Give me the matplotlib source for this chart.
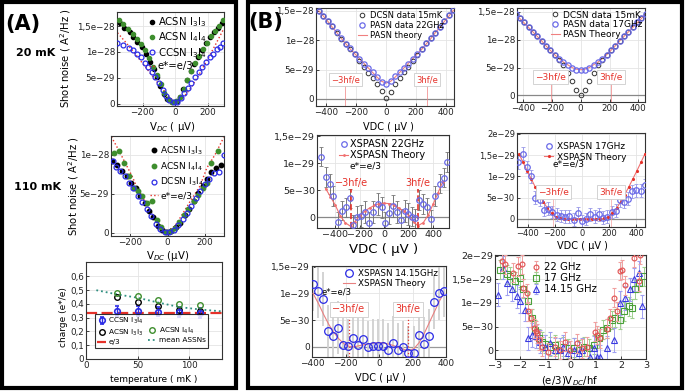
import numpy as np
import matplotlib
matplotlib.use("Agg")
import matplotlib.pyplot as plt
from matplotlib.patches import Rectangle
from matplotlib.lines import Line2D

W, H = 685, 392

# ---------------- panel A data ----------------
# 20 mK, shot noise in units of 1e-28 A^2/Hz, V in uV
a1_v_acsn33 = [-342, -312, -281, -260, -232, -205, -178, -154, -133, -113, -92, -68, -47, -21,
               10, 31, 51, 72, 96, 117, 139, 164, 189, 215, 242, 267, 291]
a1_s_acsn33 = [1.55, 1.47, 1.39, 1.29, 1.20, 1.10, 0.97, 0.81, 0.67, 0.51, 0.35, 0.19, 0.09, 0.04,
               0.06, 0.14, 0.28, 0.46, 0.64, 0.77, 0.91, 1.04, 1.17, 1.28, 1.39, 1.47, 1.56]
a1_v_acsn44 = [-348, -318, -290, -262, -236, -210, -184, -160, -136, -112, -90, -66, -44, -20,
               6, 30, 52, 76, 98, 122, 146, 170, 194, 220, 246, 270, 294]
a1_s_acsn44 = [1.62, 1.53, 1.44, 1.35, 1.25, 1.15, 1.03, 0.88, 0.72, 0.55, 0.38, 0.21, 0.09, 0.04,
               0.05, 0.13, 0.28, 0.46, 0.63, 0.79, 0.93, 1.06, 1.18, 1.30, 1.41, 1.51, 1.62]
a1_v_ccsn = [-355, -318, -287, -260, -236, -211, -185, -164, -144, -123, -98, -76, -55, -35, -10,
             14, 35, 55, 78, 98, 123, 144, 168, 191, 215, 236, 256, 277, 297]
a1_s_ccsn = [1.18, 1.13, 1.08, 1.04, 0.97, 0.90, 0.79, 0.72, 0.62, 0.51, 0.40, 0.27, 0.15, 0.08, 0.03,
             0.04, 0.11, 0.21, 0.30, 0.40, 0.51, 0.62, 0.72, 0.81, 0.90, 0.97, 1.05, 1.10, 1.17]
a1_v_th = [-355, -300, -250, -200, -150, -100, -50, 0, 50, 100, 150, 200, 250, 300]
a1_s_th = [1.37, 1.17, 0.98, 0.78, 0.58, 0.38, 0.18, 0.03, 0.12, 0.32, 0.58, 0.86, 1.15, 1.45]

# 110 mK
a2_v_acsn33 = [-294, -268, -242, -217, -193, -170, -146, -122, -99, -75, -50, -27, -3,
               21, 45, 68, 92, 117, 140, 164, 188, 211, 235, 259, 286]
a2_s_acsn33 = [0.92, 0.87, 0.79, 0.73, 0.64, 0.57, 0.47, 0.38, 0.28, 0.20, 0.09, 0.04, 0.01,
               0.02, 0.07, 0.13, 0.23, 0.31, 0.41, 0.51, 0.60, 0.69, 0.78, 0.83, 0.87]
a2_v_acsn44 = [-286, -259, -232, -206, -179, -158, -134, -107, -81, -54, -33, -9,
               18, 39, 63, 89, 110, 140, 161, 188, 211, 232, 268]
a2_s_acsn44 = [1.02, 1.05, 0.89, 0.73, 0.58, 0.54, 0.47, 0.38, 0.41, 0.17, 0.07, 0.01,
               0.02, 0.06, 0.14, 0.23, 0.30, 0.41, 0.49, 0.57, 0.64, 0.89, 1.05]
a2_v_dcsn = [-289, -277, -253, -229, -206, -182, -158, -134, -110, -86, -63, -39, -15,
             9, 33, 57, 81, 104, 128, 152, 175, 200, 224, 250, 277, 300]
a2_s_dcsn = [0.92, 0.84, 0.79, 0.73, 0.64, 0.57, 0.47, 0.39, 0.30, 0.21, 0.11, 0.05, 0.01,
             0.01, 0.04, 0.10, 0.18, 0.26, 0.35, 0.45, 0.54, 0.62, 0.69, 0.77, 0.78, 1.00]
a2_v_th = [-300, -261, -225, -190, -163, -120, -80, -40, 0, 40, 80, 120, 174, 210, 254, 300]
a2_s_th = [1.23, 1.06, 0.89, 0.73, 0.58, 0.40, 0.24, 0.09, 0.02, 0.09, 0.24, 0.40, 0.60, 0.83, 1.00, 1.22]

# charge vs temperature
a3_temp = [30, 50, 70, 90, 110]
a3_ccsn = [0.35, 0.35, 0.345, 0.34, 0.335]
a3_ccsn_err = [0.035, 0.035, 0.035, 0.035, 0.035]
a3_acsn33 = [0.45, 0.415, 0.385, 0.355, 0.35]
a3_acsn44 = [0.48, 0.46, 0.43, 0.40, 0.39]
a3_mean_t = [10, 30, 50, 70, 90, 110, 132]
a3_mean = [0.50, 0.47, 0.445, 0.41, 0.378, 0.36, 0.346]
a3_e3 = 1 / 3

# ---------------- panel B data ----------------
b_v30 = [-450, -420, -390, -360, -330, -300, -270, -240, -210, -180, -150, -120, -90, -60, -30, 0,
         30, 60, 90, 120, 150, 180, 210, 240, 270, 300, 330, 360, 390, 420, 450]
# units of 1e-29
b1_dcsn = [15.0, 14.2, 13.3, 12.4, 11.3, 10.3, 9.4, 8.5, 7.6, 6.5, 5.4, 4.5, 3.5, 2.6, 1.3, 0.2,
           1.2, 2.6, 3.6, 4.6, 5.5, 6.4, 7.5, 8.5, 9.5, 10.4, 11.3, 12.2, 13.3, 14.3, 15.1]
b1_pasn = [15.0, 14.2, 13.3, 12.4, 11.4, 10.4, 9.4, 8.6, 7.6, 6.8, 6.0, 5.3, 4.6, 3.8, 2.9, 2.6,
           3.0, 3.9, 4.6, 5.3, 6.0, 6.8, 7.6, 8.5, 9.5, 10.4, 11.3, 12.3, 13.3, 14.3, 15.1]
b1_th = [15.0, 14.1, 13.2, 12.2, 11.3, 10.3, 9.4, 8.5, 7.7, 6.9, 6.1, 5.3, 4.5, 3.7, 3.0, 2.7,
         3.0, 3.7, 4.5, 5.3, 6.1, 6.9, 7.7, 8.5, 9.4, 10.3, 11.3, 12.2, 13.2, 14.1, 15.1]
b1_hf = [-273, 273]

b2_dcsn = [14.6, 13.9, 13.1, 12.3, 11.4, 10.6, 9.8, 8.9, 8.1, 7.2, 6.4, 5.4, 4.0, 2.6, 1.0, 0.0,
           1.0, 2.6, 4.0, 5.4, 6.3, 7.2, 8.1, 8.9, 9.8, 10.6, 11.4, 12.3, 13.1, 13.9, 14.7]
b2_pasn = [14.6, 13.9, 13.1, 12.3, 11.4, 10.6, 9.8, 8.9, 8.1, 7.3, 6.6, 6.0, 5.5, 5.0, 4.6, 4.5,
           4.6, 5.0, 5.5, 6.0, 6.6, 7.3, 8.1, 8.9, 9.8, 10.6, 11.4, 12.3, 13.1, 13.9, 14.7]
b2_th = [14.6, 13.8, 13.0, 12.2, 11.4, 10.6, 9.8, 8.9, 8.1, 7.3, 6.6, 6.0, 5.5, 5.0, 4.7, 4.6,
         4.7, 5.0, 5.5, 6.0, 6.6, 7.3, 8.1, 8.9, 9.8, 10.6, 11.4, 12.2, 13.0, 13.8, 14.7]
b2_hf = [-207, 207]

# units of 1e-30
b3_v = [-515, -475, -443, -416, -382, -347, -315, -283, -256, -222, -187, -155, -123, -88, -53, -21,
        5, 37, 72, 107, 139, 166, 198, 224, 251, 286, 320, 347, 384, 419, 454, 486, 512]
b3_s = [11.2, 7.4, 6.1, 3.9, -0.8, 1.2, 1.8, 3.5, -1.4, 0.0, 0.2, 1.0, -1.0, 1.0, 2.4, 1.8,
        -1.1, 0.7, 2.1, 1.0, -0.5, 1.2, 0.6, 0.1, -0.2, 3.2, 2.4, 1.8, -0.4, 3.9, 6.2, 7.3, 10.2]
b3_err = [1.8, 1.8, 1.8, 1.8, 1.8, 1.8, 1.8, 1.8, 1.8, 2.0, 2.0, 2.0, 2.0, 2.0, 2.0, 2.0,
          2.0, 2.0, 2.0, 2.0, 2.0, 2.0, 2.0, 1.8, 1.8, 1.8, 1.8, 1.8, 1.8, 1.8, 1.8, 1.8, 1.8]
b3_th_v = [-480, -440, -400, -360, -320, -275, -240, -200, -160, -120, -80, -40, 0,
           40, 80, 120, 160, 200, 240, 275, 320, 360, 400, 440, 480]
b3_th = [5.3, 3.8, 2.2, 0.3, -1.0, -1.7, -0.8, 0.3, 1.1, 1.7, 2.2, 2.5, 2.6,
         2.5, 2.2, 1.7, 1.1, 0.3, -0.8, -1.6, -1.0, 0.4, 2.4, 4.5, 6.6]
b3_hf = [-275, 275]

# units of 1e-29
b4_v = [-471, -439, -409, -377, -345, -310, -280, -248, -218, -186, -156, -124, -94, -62, -32, 0,
        32, 62, 94, 124, 156, 186, 218, 248, 278, 310, 340, 372, 402, 434, 464]
b4_s = [1.33, 1.53, 1.22, 1.00, 0.50, 0.45, 0.22, 0.24, 0.16, 0.10, 0.07, 0.05, 0.06, -0.02, 0.14, -0.05,
        0.00, 0.11, 0.05, 0.11, 0.03, 0.05, 0.16, 0.19, 0.44, 0.40, 0.48, 0.65, 0.67, 0.66, 0.79]
b4_th_v = [-465, -435, -405, -375, -345, -315, -285, -255, -225, -195, -165, -135, -105, -75, -45, -15,
           15, 45, 75, 105, 135, 165, 195, 225, 255, 285, 315, 345, 375, 405, 435, 465]
b4_th = [1.53, 1.33, 1.13, 0.94, 0.75, 0.57, 0.40, 0.25, 0.13, 0.05, 0.01, 0.0, 0.0, 0.0, 0.0, 0.0,
         0.0, 0.0, 0.0, 0.0, 0.0, 0.01, 0.05, 0.13, 0.25, 0.40, 0.57, 0.75, 0.94, 1.13, 1.33, 1.53]
b4_hf = [-212, 212]

b5_v = [-394, -364, -334, -304, -274, -244, -214, -184, -154, -124, -94, -64, -34, -4,
        26, 56, 86, 116, 146, 176, 206, 236, 266, 296, 326, 356, 386]
b5_s = [1.17, 1.04, 0.89, 0.29, 0.21, 0.36, 0.04, 0.02, 0.16, 0.04, 0.14, -0.01, 0.02, 0.02,
        0.02, -0.06, 0.08, -0.06, -0.01, -0.11, -0.11, 0.22, 0.05, 0.20, 0.83, 1.00, 1.05]
b5_th_v = [-394, -360, -330, -300, -270, -240, -210, -180, -150, -120, -90, -60, -30, 0,
           30, 60, 90, 120, 150, 180, 210, 240, 270, 300, 330, 360, 386]
b5_th = [1.00, 0.80, 0.60, 0.42, 0.27, 0.15, 0.06, 0.01, 0.0, 0.02, 0.04, 0.06, 0.07, 0.08,
         0.07, 0.05, 0.02, -0.02, -0.05, -0.07, -0.03, 0.08, 0.25, 0.45, 0.65, 0.85, 1.00]
b5_hf = [-180, 175]

# scaled voltage (e/3)V/hf, noise in 1e-29
b6_x22 = [-2.74, -2.60, -2.27, -2.07, -1.94, -1.87, -1.74, -1.67, -1.57, -1.47, -1.37, -1.34, -1.27, -1.14,
          -0.88, -0.61, -0.41, -0.21, -0.01, 0.25, 0.45, 0.65, 0.98, 1.05, 1.18, 1.45, 1.58, 1.71, 1.85,
          1.95, 2.05, 2.18, 2.51, 2.71, 2.78]
b6_s22 = [1.89, 1.82, 1.64, 1.78, 1.82, 1.32, 1.21, 0.82, 0.68, 0.46, 0.41, 0.36, 0.21, 0.07,
          -0.04, 0.07, 0.00, 0.18, 0.00, 0.14, 0.04, 0.07, 0.39, 0.32, 0.25, 0.45, 0.68, 1.11, 0.82,
          1.68, 1.71, 1.38, 1.96, 1.46, 2.03]
b6_x17 = [-2.80, -2.54, -2.40, -2.20, -2.00, -1.87, -1.67, -1.54, -1.41, -1.27, -1.14, -1.01, -0.81, -0.61,
          -0.48, -0.28, -0.08, 0.12, 0.32, 0.52, 0.72, 0.92, 1.12, 1.31, 1.45, 1.65, 1.78, 1.95, 2.11,
          2.31, 2.44, 2.58, 2.71, 2.91]
b6_s17 = [1.71, 1.61, 1.57, 1.46, 1.53, 1.30, 1.04, 0.68, 0.43, 0.25, 0.18, 0.13, 0.07, 0.11,
          0.00, 0.07, 0.04, 0.05, 0.01, 0.07, 0.04, 0.11, 0.25, 0.43, 0.46, 0.64, 0.68, 0.64, 0.82,
          0.93, 0.89, 1.29, 1.43, 1.57]
b6_x14 = [-2.87, -2.70, -2.54, -2.34, -2.14, -2.00, -1.81, -1.67, -1.54, -1.37, -1.21, -1.01, -0.81, -0.61,
          -0.41, -0.28, -0.08, 0.12, 0.32, 0.45, 0.78, 0.92, 1.05, 1.18, 1.45, 1.71, 1.98, 2.18, 2.38,
          2.51, 2.71, 2.84]
b6_s14 = [1.18, 1.75, 1.43, 1.29, 1.14, 1.04, 0.86, 0.25, 0.32, 0.29, 0.18, 0.07, 0.14, 0.00,
          0.00, 0.07, -0.07, 0.00, -0.07, 0.00, -0.14, 0.04, -0.14, -0.14, 0.04, 0.21, 1.00, 1.11, 1.29,
          1.50, 1.64, 0.93]

# tick labels
ticks_28 = [0, 5e-29, 1e-28, 1.5e-28]
labels_28 = ["0", "5e\u221229", "1e\u221228", "1,5e\u221228"]
ticks_29 = [0, 5e-30, 1e-29, 1.5e-29]
labels_29 = ["0", "5e\u221230", "1e\u221229", "1,5e\u221229"]
ticks_29b = [0, 5e-30, 1e-29, 1.5e-29, 2e-29]
labels_29b = ["0", "5e\u221230", "1e\u221229", "1,5e\u221229", "2e\u221229"]
ticks_charge = [0, 0.1, 0.2, 0.3, 0.4, 0.5, 0.6]
labels_charge = ["0", "0,1", "0,2", "0,3", "0,4", "0,5", "0,6"]

BLUE = "#2b2be6"
LBLUE = "#6a6ae8"
GREEN = "#3e8e2e"
RED = "#e5322a"
TEAL = "#2e8f80"

fig = plt.figure(figsize=(W / 100, H / 100), dpi=100)


def px_axes(l, t, r, b):
    return fig.add_axes([l / W, 1 - b / H, (r - l) / W, (b - t) / H])


def ftext(x, y, s, **kw):
    kw.setdefault("ha", "center")
    kw.setdefault("va", "center")
    fig.text(x / W, 1 - y / H, s, **kw)


def style(ax, xt, xtl, yt, ytl, fs):
    ax.set_xticks(xt)
    ax.set_xticklabels(xtl)
    ax.set_yticks(yt)
    ax.set_yticklabels(ytl)
    ax.tick_params(labelsize=fs, direction="in", length=2, width=0.6, pad=1.5, colors="#222222")
    ax.grid(True, color="#e4e4e4", lw=0.6)
    ax.set_axisbelow(True)
    for s in ax.spines.values():
        s.set_color("#333333")
        s.set_linewidth(0.8)


def scale(vals, f):
    return np.array(vals) * f


vticks = [-200, 0, 200]
vticks_l = ["\u2212200", "0", "200"]
bticks = [-400, -200, 0, 200, 400]
bticks_l = ["\u2212400", "\u2212200", "0", "200", "400"]

# ---------- frames ----------
fig.patches.append(Rectangle((2 / W, 4 / H), 234 / W, 386 / H, transform=fig.transFigure,
                             fill=False, lw=3, ec="black"))
fig.patches.append(Rectangle((248 / W, 4 / H), 434 / W, 386 / H, transform=fig.transFigure,
                             fill=False, lw=3, ec="black"))

ftext(23, 24, "(A)", fontsize=15, fontweight="bold")
ftext(266, 22, "(B)", fontsize=15, fontweight="bold")
ftext(36, 53, "20 mK", fontsize=8, fontweight="bold")
ftext(38, 187, "110 mK", fontsize=8, fontweight="bold")

# ---------- A1 ----------
ax = px_axes(117, 12, 224, 106)
ax.plot(a1_v_th, scale(a1_s_th, 1e-28), ":", color=RED, lw=1.0, label="e*=e/3", zorder=2)
ax.plot(a1_v_acsn33, scale(a1_s_acsn33, 1e-28), "o", color="black", ms=3, label="ACSN I$_3$I$_3$", zorder=3)
ax.plot(a1_v_acsn44, scale(a1_s_acsn44, 1e-28), "o", color=GREEN, ms=3, label="ACSN I$_4$I$_4$", zorder=3)
ax.plot(a1_v_ccsn, scale(a1_s_ccsn, 1e-28), "o", mfc="none", mec=BLUE, mew=0.9, ms=3.5,
        label="CCSN I$_3$I$_4$", zorder=3)
ax.set_xlim(-358, 301)
ax.set_ylim(-0.04e-28, 1.77e-28)
style(ax, vticks, vticks_l, ticks_28, labels_28, 6.3)
h, l = ax.get_legend_handles_labels()
ax.legend([h[1], h[2], h[3], h[0]], [l[1], l[2], l[3], l[0]], loc="upper left", bbox_to_anchor=(0.24, 1.03),
          frameon=False, fontsize=7.3, handlelength=0.6, handletextpad=0.3, labelspacing=0.15,
          borderpad=0.1)
ftext(66, 58, "Shot noise ( A$^2$/Hz )", fontsize=7.3, rotation=90)
ftext(172, 127, "V$_{DC}$ ( \u00b5V)", fontsize=7.3)

# ---------- A2 ----------
ax = px_axes(111, 136, 224, 236)
ax.plot(a2_v_th, scale(a2_s_th, 1e-28), ":", color=RED, lw=1.0, label="e*=e/3", zorder=2)
ax.plot(a2_v_acsn33, scale(a2_s_acsn33, 1e-28), "o", color="black", ms=3.2, label="ACSN I$_3$I$_3$", zorder=3)
ax.plot(a2_v_acsn44, scale(a2_s_acsn44, 1e-28), "o", color=GREEN, ms=3.2, label="ACSN I$_4$I$_4$", zorder=3)
ax.plot(a2_v_dcsn, scale(a2_s_dcsn, 1e-28), "o", mfc="none", mec=BLUE, mew=0.9, ms=3.5,
        label="DCSN I$_3$I$_4$", zorder=3)
ax.set_xlim(-302, 302)
ax.set_ylim(-0.04e-28, 1.24e-28)
style(ax, vticks, vticks_l, ticks_28[:3], labels_28[:3], 6.3)
h, l = ax.get_legend_handles_labels()
ax.legend([h[1], h[2], h[3], h[0]], [l[1], l[2], l[3], l[0]], loc="upper left", bbox_to_anchor=(0.3, 0.97),
          frameon=False, fontsize=6.5, handlelength=0.8, handletextpad=0.3, labelspacing=0.35,
          borderpad=0.1)
ftext(74, 186, "Shot noise ( A$^2$/Hz )", fontsize=7.3, rotation=90)
ftext(168, 256, "V$_{DC}$ (\u00b5V)", fontsize=7.3)

# ---------- A3 ----------
ax = px_axes(86, 262, 222, 359)
h_e3 = ax.axhline(a3_e3, color=RED, ls=(0, (5, 2)), lw=1.6, zorder=2)
h_mean, = ax.plot(a3_mean_t, a3_mean, ":", color=TEAL, lw=1.3, zorder=2)
h_cc = ax.errorbar(a3_temp, a3_ccsn, yerr=a3_ccsn_err, fmt="o", mfc="none", mec=BLUE, ecolor=BLUE,
                   mew=1.2, ms=4, elinewidth=1.0, capsize=1.5, zorder=3)
h_33, = ax.plot(a3_temp, a3_acsn33, "o", mfc="none", mec="black", mew=1.0, ms=4, zorder=3)
h_44, = ax.plot(a3_temp, a3_acsn44, "o", mfc="none", mec=GREEN, mew=1.0, ms=4, zorder=3)
ax.set_xlim(0, 131.5)
ax.set_ylim(0, 0.705)
style(ax, [0, 50, 100], ["0", "50", "100"], ticks_charge, labels_charge, 6.3)
blank = Line2D([], [], color="none")
leg = ax.legend([h_cc, h_33, h_e3, blank, h_44, h_mean],
                ["CCSN I$_3$I$_4$", "ACSN I$_3$I$_3$", "e/3", "", "ACSN I$_4$I$_4$", "mean ASSNs"],
                ncol=2, loc="lower left", bbox_to_anchor=(0.04, 0.08), fontsize=5.3, frameon=True,
                fancybox=False, edgecolor="black", handlelength=1.2, handletextpad=0.3,
                columnspacing=0.5, labelspacing=0.2, borderpad=0.3)
leg.get_frame().set_linewidth(0.8)
ftext(64, 317, "charge (e*/e)", fontsize=6.5, rotation=90)
ftext(154, 379, "temperature ( mK )", fontsize=6.5)


def hf_marks(ax, xs, ytop, yl, labs, ls, lw, color, boxed, fs):
    for x, lab in zip(xs, labs):
        ax.plot([x, x], [ax.get_ylim()[0], ytop], ls=ls, lw=lw, color=color, zorder=2)
        bb = dict(boxstyle="square,pad=0.25", fc="white", ec="#cccccc", lw=0.6) if boxed else None
        ax.text(x, yl, lab, color=RED, fontsize=fs, ha="center", va="center", bbox=bb, zorder=4)


# ---------- B1 ----------
ax = px_axes(316, 8, 454, 106)
ax.axhline(0, color="#888888", lw=0.9, zorder=1)
ax.plot(b_v30, scale(b1_th, 1e-29), "-", color="#f08080", lw=0.8, label="PASN theory", zorder=2)
ax.plot(b_v30, scale(b1_dcsn, 1e-29), "o", mfc="none", mec="#333333", mew=0.7, ms=3.3,
        label="DCSN data 15mK", zorder=3)
ax.plot(b_v30, scale(b1_pasn, 1e-29), "o", mfc="none", mec=LBLUE, mew=0.9, ms=3.8,
        label="PASN data 22GHz", zorder=3)
ax.set_xlim(-470, 455)
ax.set_ylim(-1.2e-29, 1.55e-28)
style(ax, bticks, bticks_l, ticks_28, labels_28, 6.3)
h, l = ax.get_legend_handles_labels()
ax.legend([h[1], h[2], h[0]], [l[1], l[2], l[0]], loc="upper left", bbox_to_anchor=(0.27, 1.02),
          frameon=False, fontsize=6, handlelength=1.0, handletextpad=0.4, labelspacing=0.1, borderpad=0.1)
hf_marks(ax, b1_hf, 3.0e-29, 3.3e-29, ["\u22123hf/e", "3hf/e"], "-", 0.5, "#f08080", True, 6)
ftext(388, 127, "VDC ( \u00b5V )", fontsize=7)

# ---------- B2 ----------
ax = px_axes(517, 8, 645, 102)
ax.axhline(0, color="#888888", lw=0.9, zorder=1)
ax.plot(b_v30, scale(b2_th, 1e-29), "-", color="#f08080", lw=0.8, label="PASN Theory", zorder=2)
ax.plot(b_v30, scale(b2_dcsn, 1e-29), "o", mfc="none", mec="#333333", mew=0.7, ms=3.3,
        label="DCSN data 15mK", zorder=3)
ax.plot(b_v30, scale(b2_pasn, 1e-29), "o", mfc="none", mec=LBLUE, mew=0.9, ms=3.8,
        label="PASN data 17GHz", zorder=3)
ax.set_xlim(-440, 445)
ax.set_ylim(-1.2e-29, 1.57e-28)
style(ax, bticks, bticks_l, ticks_28, labels_28, 6.3)
h, l = ax.get_legend_handles_labels()
ax.legend([h[1], h[2], h[0]], [l[1], l[2], l[0]], loc="upper left", bbox_to_anchor=(0.22, 1.03),
          frameon=False, fontsize=6.5, handlelength=1.0, handletextpad=0.4, labelspacing=0.1, borderpad=0.1)
hf_marks(ax, b2_hf, 3.0e-29, 3.3e-29, ["\u22123hf/e", "3hf/e"], "-", 0.5, "#f08080", True, 6.5)

# ---------- B3 ----------
ax = px_axes(317, 135, 449, 228)
ax.axhline(0, color="#888888", lw=0.9, zorder=1)
ax.errorbar(b3_v, scale(b3_s, 1e-30), yerr=scale(b3_err, 1e-30), fmt="none", ecolor="#777777",
            elinewidth=0.7, capsize=1.5, capthick=0.6, zorder=2)
hth, = ax.plot(b3_th_v, scale(b3_th, 1e-30), "-", color="#f07070", lw=0.8, marker=".", ms=2, zorder=3)
hd, = ax.plot(b3_v, scale(b3_s, 1e-30), "o", mfc="none", mec=LBLUE, mew=0.9, ms=4, zorder=4)
ax.set_xlim(-550, 530)
ax.set_ylim(-0.2e-29, 1.52e-29)
style(ax, bticks, bticks_l, ticks_29, labels_29, 6.8)
ax.legend([hd, hth], ["XSPASN 22GHz", "XSPASN Theory"], loc="upper left", bbox_to_anchor=(0.12, 1.02),
          frameon=False, fontsize=7, handlelength=1.0, handletextpad=0.2, labelspacing=0.1, borderpad=0.1)
ax.text(-155, 0.94e-29, "e*=e/3", fontsize=6.5, ha="center", va="center")
for x in b3_hf:
    ax.plot([x, x], [-0.2e-29, 0.53e-29], "--", color=RED, lw=1.2, zorder=3)
ax.text(-267, 0.64e-29, "\u22123hf/e", color=RED, fontsize=7, ha="center", va="center")
ax.text(272, 0.64e-29, "3hf/e", color=RED, fontsize=7, ha="center", va="center")
ftext(384, 249, "VDC ( \u00b5V )", fontsize=9.5)

# ---------- B4 ----------
ax = px_axes(517, 133, 645, 227)
ax.axhline(0, color="#888888", lw=0.9, zorder=1)
ax.errorbar(b4_v, scale(b4_s, 1e-29), yerr=0.15e-29, fmt="none", ecolor="#9a9ae8",
            elinewidth=0.7, capsize=1.3, capthick=0.6, zorder=2)
hth, = ax.plot(b4_th_v, scale(b4_th, 1e-29), "-", color="#f07070", lw=0.8, marker=".", ms=2.5,
               mfc=RED, mec=RED, zorder=3)
hd, = ax.plot(b4_v, scale(b4_s, 1e-29), "o", mfc="none", mec=LBLUE, mew=0.9, ms=4, zorder=4)
ax.set_xlim(-480, 465)
ax.set_ylim(-0.19e-29, 2.02e-29)
style(ax, bticks, bticks_l, ticks_29b, labels_29b, 6)
ax.legend([hd, hth], ["XSPASN 17GHz", "XSPASN Theory"], loc="upper left", bbox_to_anchor=(0.17, 0.96),
          frameon=False, fontsize=6.5, handlelength=1.0, handletextpad=0.4, labelspacing=0.15, borderpad=0.1)
ax.text(-215, 1.28e-29, "e*=e/3", fontsize=6.5, ha="left", va="center")
hf_marks(ax, b4_hf, 0.55e-29, 0.63e-29, ["\u22123hf/e", "3hf/e"], "-", 0.5, "#f4a0a0", True, 6.5)
ftext(582, 246, "VDC ( \u00b5V )", fontsize=7)

# ---------- B5 ----------
ax = px_axes(312, 266, 446, 357)
ax.axhline(0, color="#999999", lw=0.9, zorder=1)
ax.errorbar(b5_v, scale(b5_s, 1e-29), yerr=0.5e-29, fmt="none", ecolor="#d0d0d0",
            elinewidth=1.3, zorder=2)
hth, = ax.plot(b5_th_v, scale(b5_th, 1e-29), "-", color="#e88080", lw=0.8, zorder=3)
hd, = ax.plot(b5_v, scale(b5_s, 1e-29), "o", mfc="none", mec=BLUE, mew=0.9, ms=5.5, zorder=4)
ax.set_xlim(-400, 400)
ax.set_ylim(-0.19e-29, 1.51e-29)
style(ax, bticks, bticks_l, ticks_29, labels_29, 6.5)
ax.legend([hd, hth], ["XSPASN 14.15GHz", "XSPASN Theory"], loc="upper left", bbox_to_anchor=(0.19, 1.02),
          frameon=False, fontsize=6.3, handlelength=1.4, handletextpad=0.3, labelspacing=0.1, borderpad=0.1)
ax.text(-255, 1.03e-29, "e*=e/3", fontsize=6, ha="center", va="center")
hf_marks(ax, b5_hf, 0.62e-29, 0.7e-29, ["\u22123hf/e", "3hf/e"], ":", 0.9, RED, True, 7)
ftext(380, 378, "VDC ( \u00b5V )", fontsize=7)

# ---------- B6 ----------
ax = px_axes(495, 255, 646, 359)
ax.errorbar(b6_x22, scale(b6_s22, 1e-29), yerr=0.2e-29, fmt="o", mfc="none", mec="#e05050",
            ecolor="#f0a0a0", mew=0.8, ms=3.5, elinewidth=0.7, capsize=1.2, label="22 GHz", zorder=3)
ax.errorbar(b6_x17, scale(b6_s17, 1e-29), yerr=0.2e-29, fmt="s", mfc="none", mec="#4aa03a",
            ecolor="#a0d090", mew=0.8, ms=5, elinewidth=0.7, capsize=1.2, label="17 GHz", zorder=2)
ax.errorbar(b6_x14, scale(b6_s14, 1e-29), yerr=0.25e-29, fmt="^", mfc="none", mec="#3a3ae0",
            ecolor="#a0a0f0", mew=0.8, ms=4, elinewidth=0.7, capsize=1.2, label="14.15 GHz", zorder=2)
ax.set_xlim(-3, 3)
ax.set_ylim(-0.19e-29, 2.02e-29)
style(ax, [-3, -2, -1, 0, 1, 2, 3], ["\u22123", "\u22122", "\u22121", "0", "1", "2", "3"],
      ticks_29b, labels_29b, 6.8)
ax.legend(loc="upper left", bbox_to_anchor=(0.2, 1.0), frameon=False, fontsize=7.3, handlelength=0.8,
          handletextpad=0.4, labelspacing=0.1, borderpad=0.2)
ftext(570, 381, "(e/3)V$_{DC}$/hf", fontsize=7.3)

fig.savefig("out.png", dpi=100)
